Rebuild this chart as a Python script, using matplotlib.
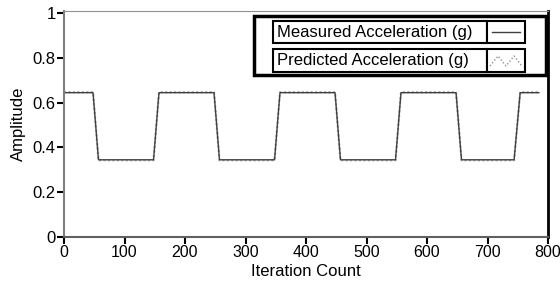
import numpy as np
import matplotlib.pyplot as plt
from matplotlib.patches import Rectangle
from matplotlib.lines import Line2D

plt.rcParams['font.family'] = ['Liberation Sans', 'DejaVu Sans']

# breakpoints of the square-ish wave
iterations = [0, 48, 57, 148, 157, 248, 257, 348, 357, 448, 457, 548, 557, 648, 657, 744, 754, 785]
measured = [0.645, 0.645, 0.345, 0.345, 0.645, 0.645, 0.345, 0.345, 0.645, 0.645,
            0.345, 0.345, 0.645, 0.645, 0.345, 0.345, 0.645, 0.645]
predicted = [0.647, 0.647, 0.343, 0.343, 0.647, 0.647, 0.343, 0.343, 0.647, 0.647,
             0.343, 0.343, 0.647, 0.647, 0.343, 0.343, 0.647, 0.647]
legend_labels = ['Measured Acceleration (g)', 'Predicted Acceleration (g)']
xticks = [0, 100, 200, 300, 400, 500, 600, 700, 800]
yticks = [0, 0.2, 0.4, 0.6, 0.8, 1]
ytick_labels = ['0', '0.2', '0.4', '0.6', '0.8', '1']

W, H = 560, 287
fig = plt.figure(figsize=(W / 100, H / 100), dpi=100)


def px(x, y):
    # pixel coords (from top-left) to figure fraction
    return x / W, 1 - y / H


ax = fig.add_axes([64 / W, (H - 237) / H, 484 / W, 226 / H])
ax.plot(iterations, predicted, color='#b0b0b0', lw=1.6, ls=(0, (1, 1)))
ax.plot(iterations, measured, color='#404040', lw=1.0)
ax.set_xlim(0, 800)
ax.set_ylim(0, 1.01)
ax.set_xticks(xticks)
ax.set_yticks(yticks)
ax.set_yticklabels(ytick_labels)
ax.tick_params(direction='out', length=5, width=1.5, labelsize=12, pad=1, colors='black')
ax.tick_params(axis='x', labelsize=11.5)
ax.set_xlabel('Iteration Count', fontsize=12, labelpad=3)
ax.set_ylabel('Amplitude', fontsize=12, labelpad=5)
ax.spines['top'].set_color('#909090')
ax.spines['left'].set_color('#808080')
ax.spines['bottom'].set_color('#606060')
ax.spines['right'].set_color('black')
ax.spines['right'].set_linewidth(2)
ax.spines['left'].set_linewidth(1.5)
ax.spines['bottom'].set_linewidth(1.5)

# LabVIEW style legend drawn by hand
x0, y0 = px(254, 75)
x1, y1 = px(546, 16)
fig.patches.append(Rectangle((x0, y0), x1 - x0, y1 - y0, transform=fig.transFigure,
                             fill=True, facecolor='white', edgecolor='black', lw=2.5))
rows = [(21, 43), (49, 72)]
for i, (top, bot) in enumerate(rows):
    lx0, ly0 = px(273, bot)
    lx1, ly1 = px(487, top)
    sx1, _ = px(525, top)
    fig.patches.append(Rectangle((lx0, ly0), lx1 - lx0, ly1 - ly0, transform=fig.transFigure,
                                 fill=True, facecolor='white', edgecolor='black', lw=1.5))
    fig.patches.append(Rectangle((lx1, ly0), sx1 - lx1, ly1 - ly0, transform=fig.transFigure,
                                 fill=True, facecolor='white', edgecolor='black', lw=1.5))
    fig.text(px(277, 0)[0], (ly0 + ly1) / 2, legend_labels[i], fontsize=12,
             va='center', ha='left')
    if i == 0:
        xs = [px(492, 0)[0], px(520, 0)[0]]
        ys = [(ly0 + ly1) / 2] * 2
        fig.lines.append(Line2D(xs, ys, transform=fig.transFigure, color='#404040', lw=1))
    else:
        xs = [px(p, 0)[0] for p in [490, 498, 506, 514, 522]]
        ys = [px(0, p)[1] for p in [66, 56, 66, 56, 66]]
        fig.lines.append(Line2D(xs, ys, transform=fig.transFigure, color='#909090',
                                lw=1, ls=(0, (1, 1.5))))

fig.savefig('out.png', dpi=100)
